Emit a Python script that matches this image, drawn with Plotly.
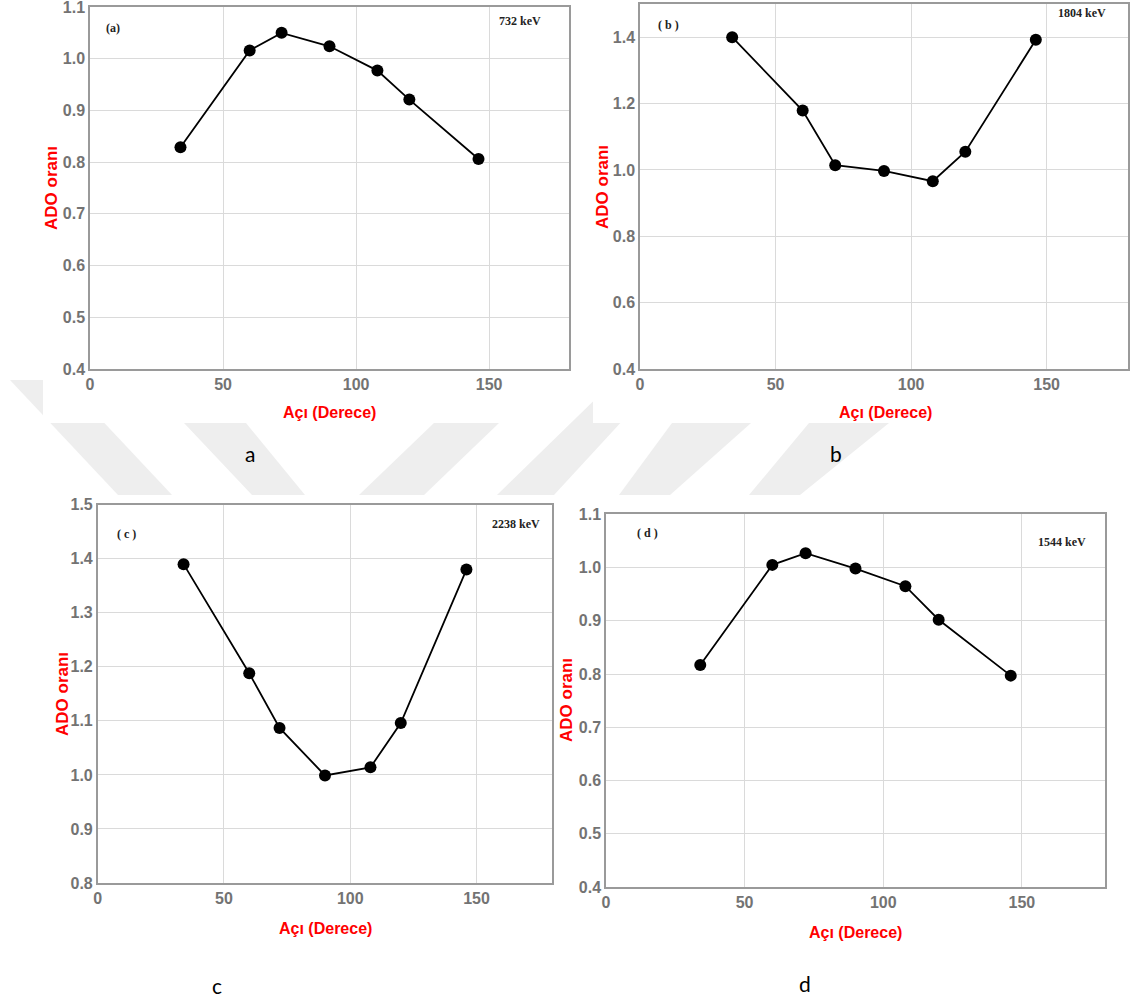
import plotly.graph_objects as go

W, H = 1133, 999

# ---------------- data ----------------
angles = [34, 60, 72, 90, 108, 120, 146]
ado_732 = [0.829, 1.016, 1.050, 1.024, 0.977, 0.921, 0.806]
ado_1804 = [1.400, 1.179, 1.014, 0.997, 0.966, 1.055, 1.392]
ado_2238 = [1.390, 1.188, 1.087, 0.999, 1.014, 1.096, 1.380]
ado_1544 = [0.817, 1.005, 1.027, 0.998, 0.965, 0.902, 0.797]

series = [ado_732, ado_1804, ado_2238, ado_1544]
panel_tags = ["(a)", "( b )", "( c )", "( d )"]
energies = ["732 keV", "1804 keV", "2238 keV", "1544 keV"]
captions = ["a", "b", "c", "d"]
y_ranges = [(0.4, 1.1), (0.4, 1.5), (0.8, 1.5), (0.4, 1.1)]
y_ticks = [
    [0.4, 0.5, 0.6, 0.7, 0.8, 0.9, 1.0, 1.1],
    [0.4, 0.6, 0.8, 1.0, 1.2, 1.4],
    [0.8, 0.9, 1.0, 1.1, 1.2, 1.3, 1.4, 1.5],
    [0.4, 0.5, 0.6, 0.7, 0.8, 0.9, 1.0, 1.1],
]
x_ticks = [0, 50, 100, 150]
x_range = (0, 180)
x_title = "Açı (Derece)"
y_title = "ADO oranı"

# ---------------- layout geometry (pixels) ----------------
boxes = [  # left, top, right, bottom
    (90, 7, 569, 369),
    (640, 4, 1128, 369),
    (97.7, 504.7, 552.3, 883),
    (606, 514.3, 1105, 887),
]
tag_pos = [(113, 28), (668, 25), (126, 534), (647, 533)]
energy_pos = [(520, 21), (1082, 13), (516, 524), (1062, 542)]
ytitle_pos = [(52, 188), (602, 187), (62, 694), (566, 700)]
xtitle_pos = [(329, 412), (885, 412), (325, 928), (855, 932)]
caption_pos = [(250, 453), (836, 453), (217, 985), (805, 983)]


def px(x):
    return x / W


def py(y):
    return 1 - y / H


SANS = "Liberation Sans, Arial"
TICK_COLOR = "#737373"
GRID = "#dadada"
AXLINE = "#9a9a9a"

fig = go.Figure()
layout = {}
annotations = []


def ann(text, pos, font, angle=0):
    return dict(text=text, x=px(pos[0]), y=py(pos[1]), xref="paper",
                yref="paper", showarrow=False, xanchor="center",
                yanchor="middle", textangle=angle, font=font)


serif_font = dict(family="Liberation Serif, Times New Roman", size=12,
                  color="#222", weight="bold")

for i, ys in enumerate(series):
    n = "" if i == 0 else str(i + 1)
    fig.add_trace(go.Scatter(
        x=angles, y=ys, mode="lines+markers",
        line=dict(color="black", width=1.8),
        marker=dict(color="black", size=12),
        xaxis="x" + n, yaxis="y" + n, showlegend=False,
        cliponaxis=False,
    ))
    l, t, r, b = boxes[i]
    tickfont = dict(family=SANS, size=16, color=TICK_COLOR, weight="bold")
    layout["xaxis" + n] = dict(
        domain=[px(l), px(r)], anchor="y" + n, range=list(x_range),
        tickvals=x_ticks, showgrid=True, gridcolor=GRID, gridwidth=1,
        showline=True, linecolor=AXLINE, linewidth=1.5, mirror=True,
        zeroline=False, ticks="", tickfont=tickfont, fixedrange=True,
        automargin=False, ticklabeloverflow="allow",
    )
    layout["yaxis" + n] = dict(
        domain=[py(b), py(t)], anchor="x" + n, range=list(y_ranges[i]),
        tickvals=y_ticks[i], tickformat=".1f", showgrid=True, gridcolor=GRID,
        gridwidth=1, showline=True, linecolor=AXLINE, linewidth=1.5,
        mirror=True, zeroline=False, ticks="", tickfont=tickfont,
        fixedrange=True, automargin=False, ticklabeloverflow="allow",
    )
    annotations += [
        ann(panel_tags[i], tag_pos[i], serif_font),
        ann(energies[i], energy_pos[i], serif_font),
        ann(y_title, ytitle_pos[i],
            dict(family=SANS, size=17, color="#ff0000", weight="bold"), -90),
        ann(x_title, xtitle_pos[i],
            dict(family=SANS, size=16, color="#ff0000", weight="bold")),
        ann(captions[i], caption_pos[i],
            dict(family="Lato, Open Sans, Liberation Sans", size=21,
                 color="black")),
    ]

# ---------------- watermark + panel backdrops (decoration) ----------------
WM = "#eeeeee"
bands = [  # (top_y, top_x0, top_x1, bottom_y, bottom_x0, bottom_x1)
    (380, 10, 64, 495, 118, 172),
    (423, 184, 246, 495, 252, 305),
    (423, 434, 499, 495, 359, 424),
    (380, 615, 660, 495, 497, 554),
    (423, 672, 751, 495, 619, 670),
    (423, 809, 889, 495, 749, 800),
]
shapes = []
for ty, tx0, tx1, by, bx0, bx1 in bands:
    path = (f"M {px(tx0)} {py(ty)} L {px(tx1)} {py(ty)} "
            f"L {px(bx1)} {py(by)} L {px(bx0)} {py(by)} Z")
    shapes.append(dict(type="path", path=path, xref="paper", yref="paper",
                       fillcolor=WM, line=dict(width=0), layer="below"))
for (x0, y0, x1, y1) in [(43, 0, 570, 423), (593, 0, 1133, 423)]:
    shapes.append(dict(type="rect", x0=px(x0), x1=px(x1), y0=py(y1),
                       y1=py(y0), xref="paper", yref="paper",
                       fillcolor="white", line=dict(width=0), layer="below"))

fig.update_layout(
    width=W, height=H,
    margin=dict(l=0, r=0, t=0, b=0, autoexpand=False),
    paper_bgcolor="white", plot_bgcolor="white",
    annotations=annotations, shapes=shapes,
    **layout,
)

fig.write_html("out.html", config={"displayModeBar": False})
